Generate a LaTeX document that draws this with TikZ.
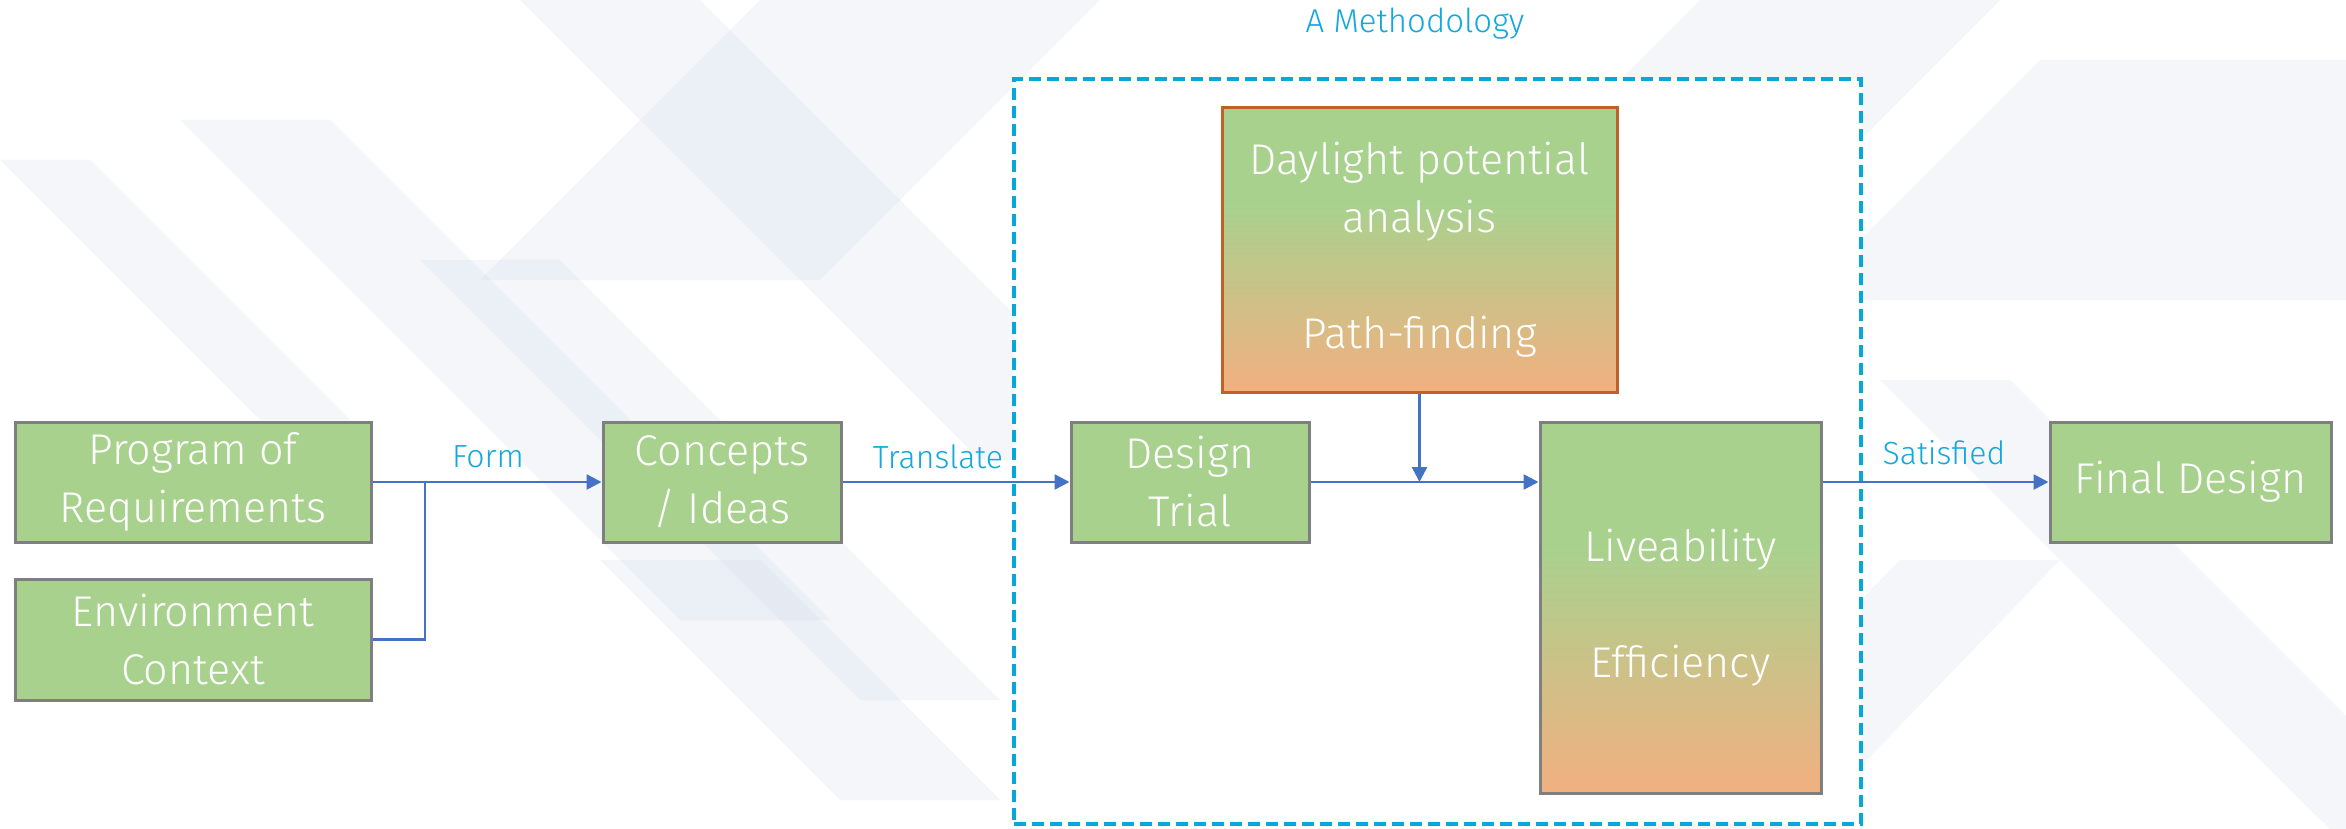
\documentclass[tikz,border=0pt]{standalone}
\usepackage{fontspec}
\setmainfont{Fira Sans Light}
\usetikzlibrary{arrows.meta,positioning}

\definecolor{boxgreen}{HTML}{A9D18E}
\definecolor{boxorange}{HTML}{F2B080}
\definecolor{boxgray}{HTML}{7F7F7F}
\definecolor{boxbrown}{HTML}{C0602A}
\definecolor{flowblue}{HTML}{4472C4}
\definecolor{labelcyan}{HTML}{14A8DC}
\definecolor{dashcyan}{HTML}{06A8DA}
\definecolor{haze}{HTML}{C9D3E6}

% green on top, fading to orange toward the bottom
\pgfdeclareverticalshading{greentoorange}{100bp}{%
  color(0bp)=(boxorange); color(25bp)=(boxorange);
  color(58bp)=(boxgreen); color(100bp)=(boxgreen)}

\tikzset{
  stage/.style={draw=boxgray, line width=3pt, fill=boxgreen,
    text=white, align=center, inner sep=0pt,
    font=\fontsize{43}{58}\selectfont},
  shadedstage/.style={stage, shading=greentoorange},
  flow/.style={draw=flowblue, line width=2.6pt},
  flowarrow/.style={flow, -{Triangle[length=15pt,width=15pt]}},
  flowlabel/.style={text=labelcyan, inner sep=0pt,
    font=\fontsize{32}{38}\selectfont},
  band/.style={fill=haze, opacity=0.2}
}

\begin{document}
\begin{tikzpicture}[x=1pt,y=-1pt]
\useasboundingbox (0,0) rectangle (2346,829);

% faint architectural backdrop
\begin{scope}
  \clip (0,0) rectangle (2346,829);
  \fill[white] (0,0) rectangle (2346,829);
  \fill[band] (520,0) -- (700,0) -- (1160,460) -- (980,460) -- cycle;
  \fill[band] (180,120) -- (330,120) -- (830,620) -- (680,620) -- cycle;
  \fill[band] (420,260) -- (560,260) -- (1000,700) -- (860,700) -- cycle;
  \fill[band] (0,160) -- (90,160) -- (350,420) -- (260,420) -- cycle;
  \fill[band] (760,0) -- (1100,0) -- (820,280) -- (480,280) -- cycle;
  \fill[band] (1700,0) -- (2000,0) -- (1640,360) -- (1340,360) -- cycle;
  \fill[band] (2040,60) -- (2346,60) -- (2346,300) -- (1800,300) -- cycle;
  \fill[band] (1880,380) -- (2010,380) -- (2346,716) -- (2346,829) -- (2330,829) -- cycle;
  \fill[band] (1900,560) -- (2060,560) -- (1800,829) -- (1640,829) -- cycle;
  \fill[band] (600,560) -- (760,560) -- (1000,800) -- (840,800) -- cycle;
\end{scope}

% methodology frame
\node[draw=dashcyan, line width=4pt, dash pattern=on 12pt off 6pt,
  fill=white, minimum width=847pt, minimum height=745pt, inner sep=0pt]
  (frame) at (1437.5,451.5) {};
\node[flowlabel, font=\fontsize{33}{38}\selectfont] (frametitle) at (1415,24)
  {A Methodology};

% stages
\node[stage, minimum width=356pt, minimum height=120pt] (prog) at (193,482)
  {Program of\\Requirements};
\node[stage, minimum width=356pt, minimum height=121pt] (env) at (193,639.5)
  {Environment\\Context};
\node[stage, minimum width=238pt, minimum height=120pt] (conc) at (722,482)
  {Concepts\\/ Ideas};
\node[stage, minimum width=238pt, minimum height=120pt] (trial) at (1190,482)
  {Design\\Trial};
\node[shadedstage, draw=boxbrown, minimum width=395pt, minimum height=284pt]
  (daylight) at (1419.5,250)
  {Daylight potential\\analysis\\[58pt]Path-finding};
\node[shadedstage, minimum width=281pt, minimum height=371pt] (live)
  at (1680.5,607.5) {Liveability\\[58pt]Efficiency};
\node[stage, minimum width=281pt, minimum height=120pt] (final) at (2190.5,482)
  {Final Design};

% connectors
\coordinate (join) at (425,482);
\draw[flow] (env.east) -| (join);
\draw[flowarrow] (prog.east) -- (conc.west);
\draw[flowarrow] (conc.east) -- (trial.west);
\coordinate (merge) at (daylight.south |- trial.east);
\draw[flowarrow] (daylight.south) -- (merge);
\draw[flowarrow] (trial.east) -- (live.west |- trial.east);
\draw[flowarrow] (live.east |- final.west) -- (final.west);

% connector labels
\node[flowlabel] (lform) at (488,457) {Form};
\node[flowlabel] (ltrans) at (938,457) {Translate};
\node[flowlabel] (lsat) at (1944,453) {Satisfied};
\end{tikzpicture}
\end{document}
